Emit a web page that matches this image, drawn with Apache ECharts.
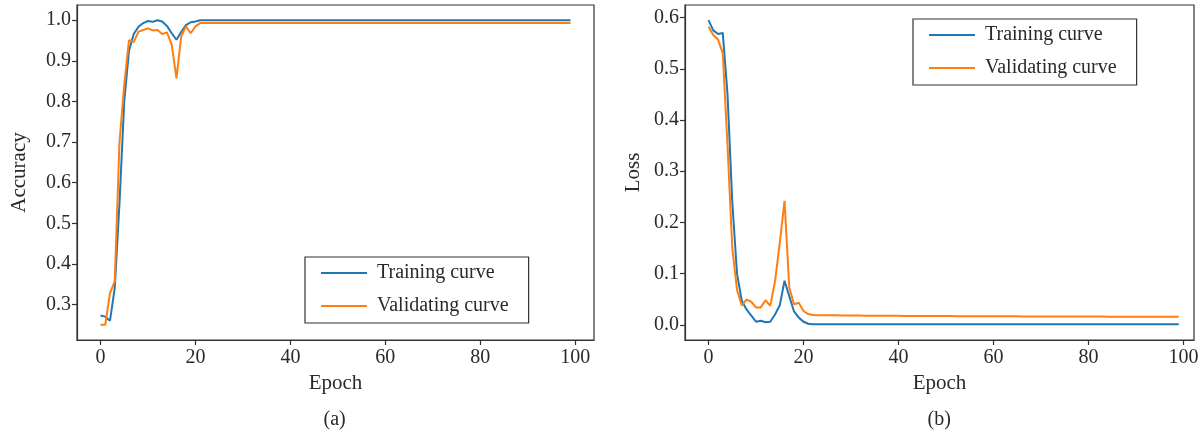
<!DOCTYPE html>
<html>
<head>
<meta charset="utf-8">
<script src="https://cdn.jsdelivr.net/npm/echarts@6/dist/echarts.min.js"></script>
<style>
html,body{margin:0;padding:0;background:#fff;}
#chart{width:1203px;height:434px;}
</style>
</head>
<body>
<div id="chart"></div>
<script>
// ---------- data ----------
const epochs = [
  0,1,2,3,4,5,6,7,8,9,10,11,12,13,14,15,16,17,18,19,
  20,21,22,23,24,25,26,27,28,29,30,31,32,33,34,35,36,37,38,39,
  40,41,42,43,44,45,46,47,48,49,50,51,52,53,54,55,56,57,58,59,
  60,61,62,63,64,65,66,67,68,69,70,71,72,73,74,75,76,77,78,79,
  80,81,82,83,84,85,86,87,88,89,90,91,92,93,94,95,96,97,98,99
];
const accTrain = [
  0.273,0.270,0.260,0.340,0.550,0.800,0.925,0.966,0.984,0.993,
  0.998,0.996,1.000,0.997,0.986,0.968,0.952,0.971,0.988,0.995,
  0.997,1.000,1.000,1.000,1.000,1.000,1.000,1.000,1.000,1.000,
  1.000,1.000,1.000,1.000,1.000,1.000,1.000,1.000,1.000,1.000,
  1.000,1.000,1.000,1.000,1.000,1.000,1.000,1.000,1.000,1.000,
  1.000,1.000,1.000,1.000,1.000,1.000,1.000,1.000,1.000,1.000,
  1.000,1.000,1.000,1.000,1.000,1.000,1.000,1.000,1.000,1.000,
  1.000,1.000,1.000,1.000,1.000,1.000,1.000,1.000,1.000,1.000,
  1.000,1.000,1.000,1.000,1.000,1.000,1.000,1.000,1.000,1.000,
  1.000,1.000,1.000,1.000,1.000,1.000,1.000,1.000,1.000,1.000
];
const accVal = [
  0.250,0.250,0.328,0.357,0.700,0.840,0.951,0.946,0.972,0.976,
  0.980,0.975,0.976,0.966,0.970,0.940,0.857,0.960,0.985,0.968,
  0.985,0.993,0.993,0.993,0.993,0.993,0.993,0.993,0.993,0.993,
  0.993,0.993,0.993,0.993,0.993,0.993,0.993,0.993,0.993,0.993,
  0.993,0.993,0.993,0.993,0.993,0.993,0.993,0.993,0.993,0.993,
  0.993,0.993,0.993,0.993,0.993,0.993,0.993,0.993,0.993,0.993,
  0.993,0.993,0.993,0.993,0.993,0.993,0.993,0.993,0.993,0.993,
  0.993,0.993,0.993,0.993,0.993,0.993,0.993,0.993,0.993,0.993,
  0.993,0.993,0.993,0.993,0.993,0.993,0.993,0.993,0.993,0.993,
  0.993,0.993,0.993,0.993,0.993,0.993,0.993,0.993,0.993,0.993
];
const lossTrain = [
  0.595,0.575,0.568,0.570,0.450,0.240,0.100,0.047,0.030,0.018,
  0.006,0.008,0.005,0.006,0.020,0.038,0.086,0.056,0.026,0.014,
  0.006,0.002,0.001,0.001,0.001,0.001,0.001,0.001,0.001,0.001,
  0.001,0.001,0.001,0.001,0.001,0.001,0.001,0.001,0.001,0.001,
  0.001,0.001,0.001,0.001,0.001,0.001,0.001,0.001,0.001,0.001,
  0.001,0.001,0.001,0.001,0.001,0.001,0.001,0.001,0.001,0.001,
  0.001,0.001,0.001,0.001,0.001,0.001,0.001,0.001,0.001,0.001,
  0.001,0.001,0.001,0.001,0.001,0.001,0.001,0.001,0.001,0.001,
  0.001,0.001,0.001,0.001,0.001,0.001,0.001,0.001,0.001,0.001,
  0.001,0.001,0.001,0.001,0.001,0.001,0.001,0.001,0.001,0.001
];
const lossVal = [
  0.582,0.566,0.557,0.530,0.350,0.150,0.068,0.038,0.049,0.045,
  0.034,0.034,0.048,0.037,0.085,0.160,0.242,0.073,0.040,0.043,
  0.027,0.021,0.0190,0.0188,0.0187,0.0186,0.0185,0.0184,0.0183,0.0182,
  0.0181,0.0180,0.0180,0.0179,0.0178,0.0178,0.0177,0.0176,0.0176,0.0175,
  0.0175,0.0174,0.0174,0.0173,0.0173,0.0172,0.0172,0.0171,0.0171,0.0170,
  0.0170,0.0170,0.0169,0.0169,0.0168,0.0168,0.0168,0.0167,0.0167,0.0167,
  0.0166,0.0166,0.0166,0.0165,0.0165,0.0165,0.0164,0.0164,0.0164,0.0163,
  0.0163,0.0163,0.0162,0.0162,0.0162,0.0162,0.0161,0.0161,0.0161,0.0161,
  0.0160,0.0160,0.0160,0.0160,0.0159,0.0159,0.0159,0.0159,0.0158,0.0158,
  0.0158,0.0158,0.0157,0.0157,0.0157,0.0157,0.0157,0.0156,0.0156,0.0156
];
const xTicks = [0,20,40,60,80,100];
const accTicks = [0.3,0.4,0.5,0.6,0.7,0.8,0.9,1.0];
const lossTicks = [0.0,0.1,0.2,0.3,0.4,0.5,0.6];
const seriesNames = ['Training curve','Validating curve'];
const panelLabels = ['(a)','(b)'];
const yNames = ['Accuracy','Loss'];
const xName = 'Epoch';

// ---------- styling ----------
const FONT = 'Liberation Serif';
const TXT = '#2a2a2a';
const AX = '#333333';
const BLUE = '#1f77b4';
const ORANGE = '#ff7f0e';

function pairs(ys){ return epochs.map((e,i)=>[e, ys[i]]); }

function xAxis(gridIndex, max){
  return {
    type:'value', gridIndex, min:-4.95, max:max, name:xName,
    nameLocation:'middle', nameGap:33,
    nameTextStyle:{fontFamily:FONT,fontSize:21,color:TXT},
    splitLine:{show:false},
    axisLine:{show:true,onZero:false,lineStyle:{color:AX,width:1.2}},
    axisTick:{show:true,inside:false,length:5,lineStyle:{color:AX,width:1.2},customValues:xTicks},
    axisLabel:{fontFamily:FONT,fontSize:20,color:TXT,margin:8,customValues:xTicks,formatter:v=>String(Math.round(v))}
  };
}
function yAxis(gridIndex, min, max, ticks, name, gap){
  return {
    type:'value', gridIndex, min, max, name,
    nameLocation:'middle', nameGap:gap, nameRotate:90,
    nameTextStyle:{fontFamily:FONT,fontSize:21,color:TXT},
    splitLine:{show:false},
    axisLine:{show:true,onZero:false,lineStyle:{color:AX,width:1.2}},
    axisTick:{show:true,inside:false,length:5,lineStyle:{color:AX,width:1.2},customValues:ticks},
    axisLabel:{fontFamily:FONT,fontSize:20,color:TXT,margin:6,customValues:ticks,formatter:v=>v.toFixed(1)}
  };
}
function line(name, data, color, xi, yi){
  return {
    type:'line', name, data, xAxisIndex:xi, yAxisIndex:yi,
    symbol:'none', showSymbol:false, smooth:false,
    lineStyle:{color, width:2}, itemStyle:{color},
    animation:false, z:3
  };
}
function legend(left, top){
  return {
    orient:'vertical', left, top, data:seriesNames,
    icon:'rect', itemWidth:46, itemHeight:2, itemGap:11,
    padding:[5,20,6,16],
    borderColor:AX, borderWidth:1.2, borderRadius:0,
    backgroundColor:'#fff',
    textStyle:{fontFamily:FONT,fontSize:20,color:TXT,lineHeight:22,padding:[0,0,0,5]},
    selectedMode:false
  };
}

const chart = echarts.init(document.getElementById('chart'), null, {renderer:'canvas'});
chart.setOption({
  animation:false,
  backgroundColor:'#fff',
  grid:[
    {left:77, top:5, width:517, height:335, show:true, borderColor:AX, borderWidth:1.2, backgroundColor:'transparent'},
    {left:685, top:5, width:509, height:335, show:true, borderColor:AX, borderWidth:1.2, backgroundColor:'transparent'}
  ],
  xAxis:[ xAxis(0, 103.95), xAxis(1, 102.2) ],
  yAxis:[
    yAxis(0, 0.2125, 1.0375, accTicks, yNames[0], 47),
    yAxis(1, -0.0297, 0.6245, lossTicks, yNames[1], 41)
  ],
  legend:[ legend(305, 257), legend(913, 19) ],
  series:[
    line(seriesNames[0], pairs(accTrain), BLUE, 0, 0),
    line(seriesNames[1], pairs(accVal), ORANGE, 0, 0),
    line(seriesNames[0], pairs(lossTrain), BLUE, 1, 1),
    line(seriesNames[1], pairs(lossVal), ORANGE, 1, 1)
  ],
  graphic:[
    {type:'text', left:335.5-12, top:410, style:{text:panelLabels[0], font:'20px "Liberation Serif"', fill:TXT}},
    {type:'text', left:939.5-12, top:410, style:{text:panelLabels[1], font:'20px "Liberation Serif"', fill:TXT}}
  ]
});
</script>
</body>
</html>
